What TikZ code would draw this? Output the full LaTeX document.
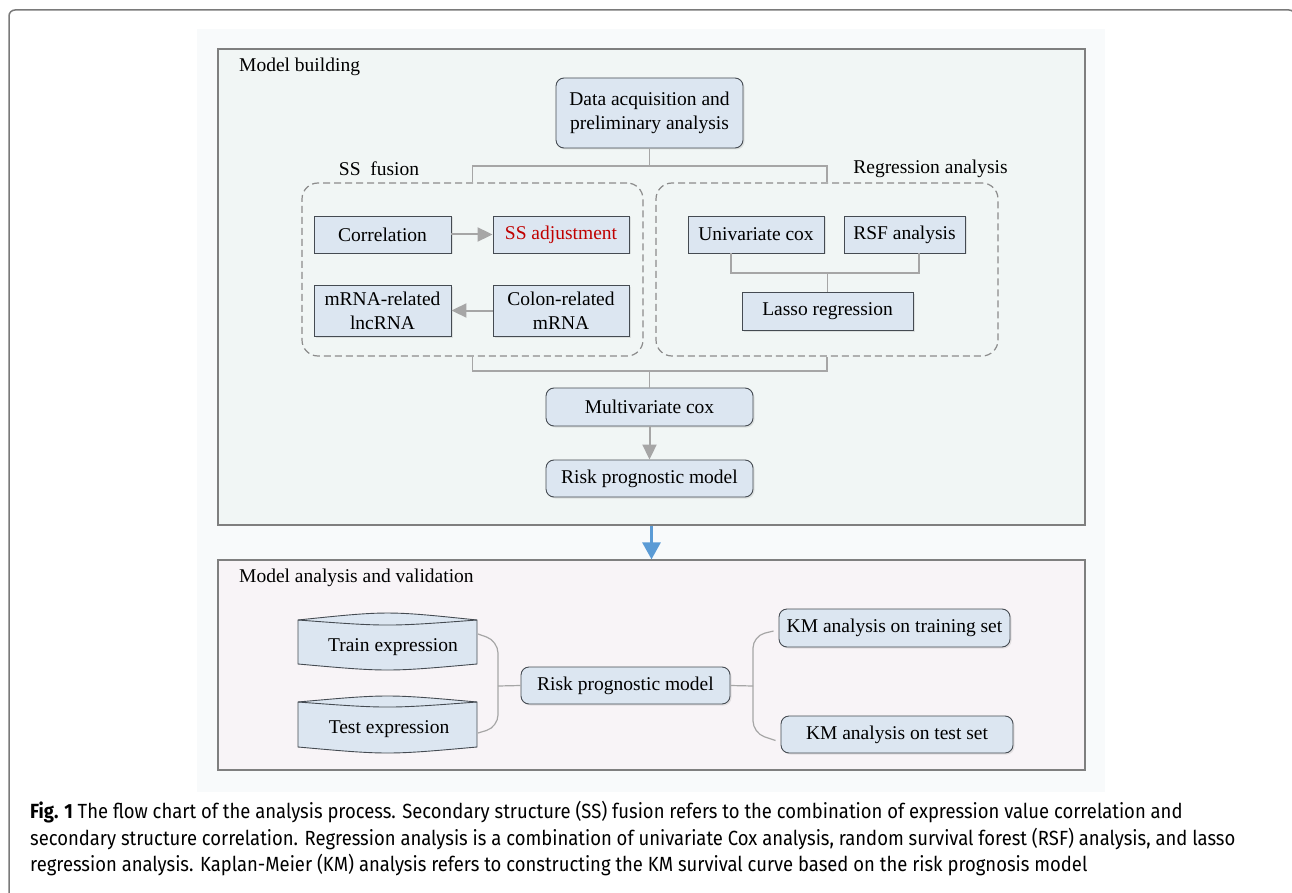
\documentclass[tikz,border=0pt]{standalone}
\usepackage{fontspec}
\setmainfont{Liberation Serif}
\newfontfamily\capfont[FakeStretch=0.9]{Fira Sans}
\usetikzlibrary{arrows.meta,shadows,calc}
\definecolor{nodefill}{HTML}{DCE6F1}
\definecolor{nodeline}{HTML}{454B52}
\definecolor{conn}{HTML}{A6A6A6}
\definecolor{dashc}{HTML}{8C8C8C}
\definecolor{framec}{HTML}{7F7F7F}
\definecolor{mbfill}{HTML}{F1F6F5}
\definecolor{mafill}{HTML}{F8F4F7}
\definecolor{bgfill}{HTML}{F8FAFB}
\definecolor{ssred}{HTML}{C00000}
\definecolor{bluearrow}{HTML}{5B9BD5}
\definecolor{outerc}{HTML}{7A7A7A}
\begin{document}
\begin{tikzpicture}[x=1pt,y=-1pt,
  txt/.style={font=\fontsize{19.5}{24}\selectfont},
  sqbox/.style={draw=nodeline, fill=nodefill, line width=0.9pt, inner sep=0pt, align=center, txt,
    drop shadow={opacity=0.18, shadow xshift=1.5pt, shadow yshift=-1.5pt}},
  rbox/.style={sqbox, rounded corners=8pt},
  conline/.style={draw=conn, line width=1.4pt},
  grayarrow/.style={draw=conn, line width=2pt, -{Triangle[length=15pt,width=14pt]}},
  dashbox/.style={draw=dashc, dash pattern=on 7pt off 4pt, line width=1.2pt, rounded corners=16pt, inner sep=0pt},
  panel/.style={draw=framec, line width=1.3pt, inner sep=0pt},
  lbl/.style={txt, anchor=west, inner sep=0pt},
  capline/.style={anchor=base west, inner sep=0pt, font=\capfont\fontsize{20.5}{26}\selectfont},
  cyl/.style={draw=nodeline, fill=nodefill, line width=0.9pt},
]
\useasboundingbox (0,0) rectangle (1292,893);
% outer frame and background
\draw[outerc, line width=1.5pt, rounded corners=6pt] (9,10) rectangle (1295,912);
\fill[bgfill] (197,29) rectangle (1105,792);

% panels
\node[panel, fill=mbfill, minimum width=867pt, minimum height=476pt] (mb) at (651.5,287) {};
\node[panel, fill=mafill, minimum width=867pt, minimum height=210pt] (ma) at (651.5,665) {};
\node[lbl] (mbl) at (239,67) {Model building};
\node[lbl] (mal) at (239,578) {Model analysis and validation};

% dashed groups
\node[dashbox, minimum width=341pt, minimum height=173pt] (ssf) at (472.5,269.5) {};
\node[dashbox, minimum width=342pt, minimum height=173pt] (reg) at (827,269.5) {};
\node[txt, inner sep=0pt] (ssfl) at (379,169) {SS\ \ fusion};
\node[txt, inner sep=0pt] (regl) at (930.5,169) {Regression analysis};

% nodes
\node[rbox, minimum width=187pt, minimum height=70pt] (data) at (649.5,113) {Data acquisition and\\preliminary analysis};
\node[sqbox, minimum width=137pt, minimum height=37pt] (corr) at (382.5,234.5) {Correlation};
\node[sqbox, minimum width=136pt, minimum height=37pt, text=ssred] (ssadj) at (561,234.5) {SS adjustment};
\node[sqbox, minimum width=137pt, minimum height=51pt] (mrl) at (382.5,310.5) {mRNA-related\\lncRNA};
\node[sqbox, minimum width=136pt, minimum height=51pt] (colon) at (561,310.5) {Colon-related\\mRNA};
\node[sqbox, minimum width=136pt, minimum height=37pt] (uni) at (756,234.5) {Univariate cox};
\node[sqbox, minimum width=121pt, minimum height=37pt] (rsf) at (904.5,234.5) {RSF analysis};
\node[sqbox, minimum width=171pt, minimum height=38pt] (lasso) at (827.5,311) {Lasso regression};
\node[rbox, minimum width=207pt, minimum height=38pt] (multi) at (649.5,407) {Multivariate cox};
\node[rbox, minimum width=207pt, minimum height=37pt] (risk1) at (649.5,478.5) {Risk prognostic model};

% connectors, model building
\coordinate (j1) at (649.5,166);
\draw[conline] (data.south) -- (j1);
\draw[conline] (ssf.north) |- (j1) -| (reg.north);
\coordinate (j3) at (827.5,273);
\draw[conline] ($(uni.south)+(-25,0)$) |- (j3) -| ($(rsf.south)+(14.5,0)$);
\draw[conline] (j3) -- (lasso.north);
\coordinate (j2) at (649.5,371);
\draw[conline] (ssf.south) |- (j2) -| (reg.south);
\draw[conline] (j2) -- (multi.north);
\draw[grayarrow] (corr.east) -- (ssadj.west);
\draw[grayarrow] (colon.west) -- (mrl.east);
\draw[grayarrow] (multi.south) -- (risk1.north);

% blue arrow between panels
\draw[draw=bluearrow, line width=3pt, -{Triangle[length=17pt,width=18pt]}] (mb.south) -- (ma.north);

% cylinders
\draw[cyl] (298,620) .. controls (387.5,610.7) .. (477,620) -- (477,664)
  .. controls (387.5,672) .. (298,664) -- cycle;
\draw[nodeline, line width=0.9pt] (298,620) .. controls (387.5,626.7) .. (477,620);
\draw[cyl] (298,702) .. controls (387.5,694) .. (477,702) -- (477,747)
  .. controls (387.5,755) .. (298,747) -- cycle;
\draw[nodeline, line width=0.9pt] (298,702) .. controls (387.5,708.7) .. (477,702);
\node[txt, inner sep=0pt] (train) at (393,647) {Train expression};
\node[txt, inner sep=0pt] (test) at (389,729) {Test expression};
\coordinate (trainR) at (478,634);
\coordinate (testR) at (478,733);

\node[rbox, minimum width=209pt, minimum height=37pt] (risk2) at (625.5,685.5) {Risk prognostic model};
\node[rbox, minimum width=231pt, minimum height=38pt] (kmtr) at (894.5,628) {KM analysis on training set};
\node[rbox, minimum width=232pt, minimum height=37pt] (kmte) at (897,734.5) {KM analysis on test set};

\coordinate (b1) at (498,686);
\draw[conline, line width=1.2pt, rounded corners=12pt] (trainR) -- (498,641) -- (498,727) -- (testR);
\draw[conline, line width=1.2pt] (b1) -- (risk2.west);
\coordinate (b2) at (753,686);
\draw[conline, line width=1.2pt] (risk2.east) -- (b2);
\draw[conline, line width=1.2pt, rounded corners=12pt] ($(kmtr.west)+(-5,3)$) -- (753,636) -- (753,733) -- ($(kmte.west)+(-5,6)$);

% caption
\node[capline] (cap1) at (30,818) {\textbf{Fig. 1} The flow chart of the analysis process. Secondary structure (SS) fusion refers to the combination of expression value correlation and};
\node[capline] (cap2) at (30,845) {secondary structure correlation. Regression analysis is a combination of univariate Cox analysis, random survival forest (RSF) analysis, and lasso};
\node[capline] (cap3) at (30,871) {regression analysis. Kaplan-Meier (KM) analysis refers to constructing the KM survival curve based on the risk prognosis model};
\end{tikzpicture}
\end{document}
